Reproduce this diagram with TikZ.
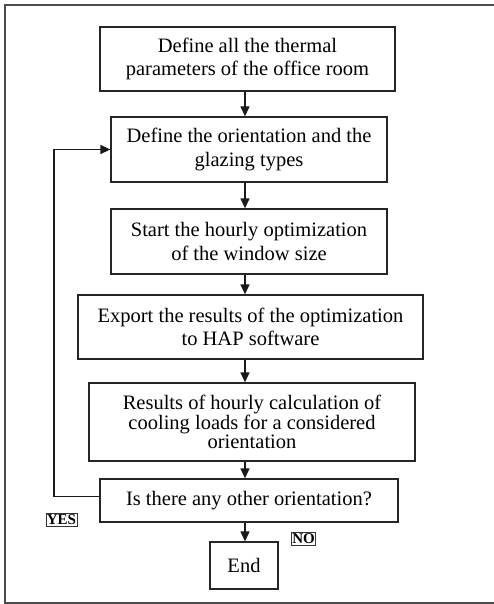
\documentclass[tikz,border=0pt]{standalone}
\usepackage{fontspec}
\setmainfont{Liberation Serif}
\usetikzlibrary{arrows.meta}

\begin{document}
\begin{tikzpicture}[x=1pt, y=-1pt, line cap=butt,
    box/.style={draw=black!85, line width=1.3pt, align=center, inner sep=0pt,
                font=\fontsize{20.5}{23.5}\selectfont},
    lbl/.style={draw=black!80, line width=0.6pt, inner xsep=0.8pt, inner ysep=1.6pt,
                font=\fontsize{15}{15}\selectfont\bfseries},
    flow/.style={-{Triangle[length=10pt, width=9pt]}, line width=1.3pt, black!90}]
    \useasboundingbox (0,0) rectangle (494,604);
    % --- marco exterior (sin borde derecho)
    \draw[gray!60!black, line width=1.6pt] (494,5) -- (5,5) -- (5,603) -- (494,603);
    % --- cajas del diagrama
    \node[box, minimum width=295pt, minimum height=64pt] (params) at (247.5,59)
         {Define all the thermal\\parameters of the office room};
    \node[box, minimum width=276pt, minimum height=65pt] (orient) at (249,149.5)
         {Define the orientation and the\\glazing types};
    \node[box, minimum width=276pt, minimum height=65pt] (optim) at (249,241.5)
         {Start the hourly optimization\\of the window size};
    \node[box, minimum width=345pt, minimum height=64pt] (export) at (250.5,327)
         {Export the results of the optimization\\to HAP software};
    \node[box, minimum width=326pt, minimum height=78pt,
          font=\fontsize{20.5}{19.5}\selectfont] (results) at (252,422)
         {Results of hourly calculation of\\cooling loads for a considered\\orientation};
    \node[box, minimum width=298pt, minimum height=43pt] (check) at (249,500.5)
         {Is there any other orientation?};
    \node[box, minimum width=68pt, minimum height=47pt] (finish) at (244,565.5)
         {End};
    % --- eje vertical de las flechas
    \coordinate (axis) at (245,0);
    \draw[flow] (params.south -| axis) -- (orient.north -| axis);
    \draw[flow] (orient.south -| axis) -- (optim.north -| axis);
    \draw[flow] (optim.south -| axis) -- (export.north -| axis);
    \draw[flow] (export.south -| axis) -- (results.north -| axis);
    \draw[flow] (results.south -| axis) -- (check.north -| axis);
    \draw[flow] (check.south -| axis) -- (finish.north -| axis);
    % --- vuelta atras: otra orientacion
    \coordinate (back) at (54,0);
    \draw[flow] ([yshift=4pt]check.west) -| (back |- orient.west) -- (orient.west);
    % --- rotulos de la decision
    \node[lbl] (yes) at (61.5,519.5) {YES};
    \node[lbl] (no) at (303.5,539) {NO};
\end{tikzpicture}
\end{document}
